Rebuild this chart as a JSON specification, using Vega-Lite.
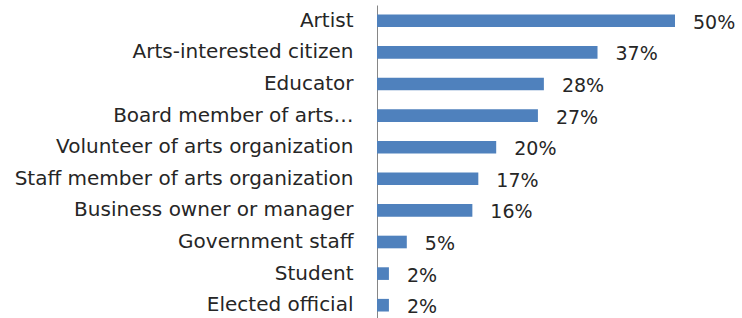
{
  "$schema": "https://vega.github.io/schema/vega-lite/v6.json",
  "autosize": "none",
  "padding": {"left": 377, "top": 5, "right": 67, "bottom": 0},
  "width": 298,
  "height": 316,
  "background": "white",
  "data": {
    "values": [
      {"role": "Artist", "share": 0.50},
      {"role": "Arts-interested citizen", "share": 0.37},
      {"role": "Educator", "share": 0.28},
      {"role": "Board member of arts…", "share": 0.27},
      {"role": "Volunteer of arts organization", "share": 0.20},
      {"role": "Staff member of arts organization", "share": 0.17},
      {"role": "Business owner or manager", "share": 0.16},
      {"role": "Government staff", "share": 0.05},
      {"role": "Student", "share": 0.02},
      {"role": "Elected official", "share": 0.02}
    ]
  },
  "encoding": {
    "y": {
      "field": "role",
      "type": "nominal",
      "sort": null,
      "scale": {"paddingInner": 0.6, "paddingOuter": 0.3},
      "axis": {
        "title": null,
        "ticks": false,
        "domain": true,
        "domainColor": "#868686",
        "domainWidth": 1,
        "labelPadding": 24,
        "labelFont": "DejaVu Sans",
        "labelFontSize": 20,
        "labelColor": "#262626",
        "labelLimit": 400
      }
    },
    "x": {
      "field": "share",
      "type": "quantitative",
      "scale": {"domain": [0, 0.5], "nice": false},
      "axis": null
    }
  },
  "layer": [
    {"mark": {"type": "bar", "color": "#4F81BD"}},
    {
      "mark": {"type": "text", "align": "left", "baseline": "middle", "dx": 18, "dy": 2, "font": "DejaVu Sans", "fontSize": 19, "color": "#262626"},
      "encoding": {"text": {"field": "share", "type": "quantitative", "format": ".0%"}}
    }
  ],
  "config": {"view": {"stroke": null}}
}
